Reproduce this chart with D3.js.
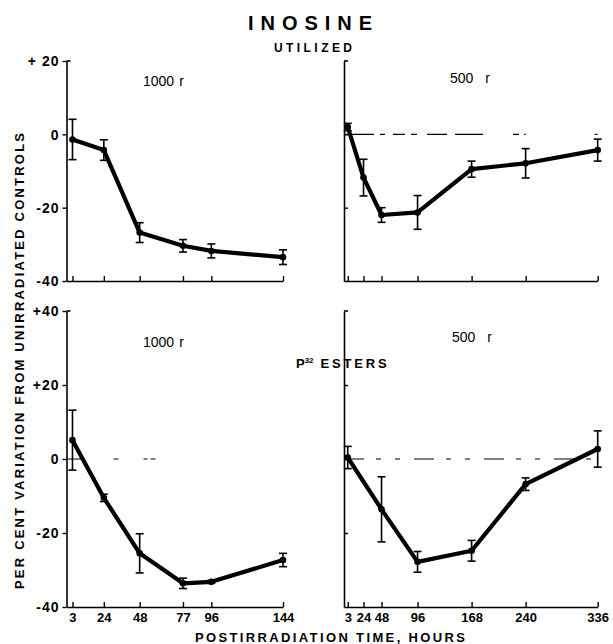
<!DOCTYPE html>
<html><head><meta charset="utf-8">
<script src="https://cdn.jsdelivr.net/npm/d3@7/dist/d3.min.js"></script>
<style>
body{margin:0;background:#fff;}
svg{display:block;}
text{font-family:"Liberation Sans",Arial,sans-serif;fill:#000;}
</style></head>
<body><svg id="c" width="613" height="644"></svg>
<script>
// ---- data ----
const hours1000 = [3, 24, 48, 77, 96, 144];
const hours500 = [3, 24, 48, 96, 168, 240, 336];
const hours500b = [3, 48, 96, 168, 240, 336];

const utilized1000 = [-1.4, -4.3, -26.8, -30.4, -31.8, -33.5];
const utilized1000Err = [5.5, 2.8, 2.7, 1.7, 1.9, 2.0];
const utilized500 = [2.0, -11.8, -22.0, -21.3, -9.5, -7.9, -4.3];
const utilized500Err = [1.0, 5.0, 2.0, 4.6, 2.2, 4.0, 3.0];

const esters1000 = [5.1, -10.5, -25.5, -33.6, -33.2, -27.3];
const esters1000Err = [8.1, 1.0, 5.3, 1.4, 0.4, 1.8];
const esters500 = [0.4, -13.6, -27.8, -24.8, -6.8, 2.7];
const esters500Err = [3.0, 8.8, 2.8, 2.8, 1.7, 4.9];

const ticksLeftX = [3, 24, 48, 77, 96, 144];
const ticksRightX = [3, 24, 48, 96, 168, 240, 336];
const yTicksTop = [20, 0, -20, -40];
const yTicksBottom = [40, 20, 0, -20, -40];
const yLabelsTop = {"20": "+ 20", "0": "0", "-20": "-20", "-40": "-40"};
const yLabelsBottom = {"40": "+40", "20": "+20", "0": "0", "-20": "-20", "-40": "-40"};

const svg = d3.select("#c");

// scales
const xLeft = d3.scaleLinear().domain([-1, 144]).range([66.5, 283]);
const xRight = d3.scaleLinear().domain([-2, 336]).range([344, 597.7]);
const yTop = d3.scaleLinear().domain([-40, 20]).range([281, 61]);
const yBot = d3.scaleLinear().domain([-40, 40]).range([607, 311]);

function panel(opt) {
  const g = svg.append("g");
  const x = opt.x, y = opt.y;
  const x0 = x.range()[0];
  let ya;
  if (opt.left) {
    ya = d3.axisLeft(y).tickValues(opt.yTicks).tickSize(4).tickSizeOuter(0)
      .tickPadding(3).tickFormat(d => opt.yLabels[String(d)]);
  } else {
    ya = d3.axisRight(y).tickValues(opt.yTicks).tickSize(4).tickSizeOuter(0).tickFormat("");
  }
  const yg = g.append("g").attr("transform", `translate(${x0},0)`).call(ya);
  yg.select(".domain").attr("stroke", "#000").attr("stroke-width", 1.6);
  yg.selectAll(".tick line").attr("stroke", "#000").attr("stroke-width", 1.4);
  yg.selectAll(".tick text").style("font-size", "14px").style("letter-spacing", "1px")
    .style("font-weight", "bold").attr("dy", "0.35em");
  g.append("line").attr("x1", x0).attr("x2", x0 + 4)
    .attr("y1", y.range()[1]).attr("y2", y.range()[1])
    .attr("stroke", "#000").attr("stroke-width", 1.6);
  const xa = d3.axisBottom(x).tickValues(opt.xTicks).tickSize(-5).tickSizeOuter(0).tickPadding(6)
    .tickFormat(opt.xLabels ? d3.format("d") : "");
  const xg = g.append("g").attr("transform", `translate(0,${y.range()[0]})`).call(xa);
  xg.select(".domain").attr("stroke", "#000").attr("stroke-width", 1.6);
  xg.selectAll(".tick line").attr("stroke", "#000").attr("stroke-width", 1.4);
  xg.selectAll(".tick text").style("font-size", "13px").style("font-weight", "bold");
  if (opt.zero) {
    opt.zero.forEach(z => {
      g.append("line").attr("x1", z.from === undefined ? x0 : x(z.from)).attr("x2", x(z.to))
        .attr("y1", y(0)).attr("y2", y(0))
        .attr("stroke", "#000").attr("stroke-width", 1.1)
        .attr("stroke-dasharray", z.dash);
    });
  }
  const pts = opt.hours.map((h, i) => ({h, v: opt.values[i], e: opt.errs[i]}));
  g.append("path").datum(pts)
    .attr("d", d3.line().x(d => x(d.h)).y(d => y(d.v)))
    .attr("fill", "none").attr("stroke", "#000").attr("stroke-width", 4.2)
    .attr("stroke-linejoin", "round");
  const eb = g.selectAll(".eb").data(pts.filter(d => d.e > 0)).enter().append("g");
  eb.append("line").attr("x1", d => x(d.h)).attr("x2", d => x(d.h))
    .attr("y1", d => y(d.v + d.e)).attr("y2", d => y(d.v - d.e))
    .attr("stroke", "#000").attr("stroke-width", 1.6);
  [1, -1].forEach(s => {
    eb.append("line").attr("x1", d => x(d.h) - 4).attr("x2", d => x(d.h) + 4)
      .attr("y1", d => y(d.v + s * d.e)).attr("y2", d => y(d.v + s * d.e))
      .attr("stroke", "#000").attr("stroke-width", 1.6);
  });
  g.selectAll(".pt").data(pts).enter().append("circle")
    .attr("cx", d => x(d.h)).attr("cy", d => y(d.v)).attr("r", 3.3).attr("fill", "#000");
  const t = g.append("text").attr("x", opt.label.x).attr("y", opt.label.y)
    .style("font-size", "14px");
  t.append("tspan").text(opt.label.t);
  t.append("tspan").attr("dx", opt.label.gap).text("r");
}

panel({x: xLeft, y: yTop, left: true, yTicks: yTicksTop, yLabels: yLabelsTop,
  xTicks: ticksLeftX, xLabels: false, hours: hours1000, values: utilized1000, errs: utilized1000Err,
  label: {x: 143, y: 86, gap: 5, t: "1000"}});
panel({x: xRight, y: yTop, left: false, yTicks: [0, -20],
  xTicks: ticksRightX, xLabels: false, hours: hours500, values: utilized500, errs: utilized500Err,
  zero: [{to: 240, dash: "30,6,5,8,12,6,6,10,20,8,28"}, {from: 332, to: 336, dash: "none"}],
  label: {x: 450, y: 83, gap: 12, t: "500"}});
panel({x: xLeft, y: yBot, left: true, yTicks: yTicksBottom, yLabels: yLabelsBottom,
  xTicks: ticksLeftX, xLabels: true, hours: hours1000, values: esters1000, errs: esters1000Err,
  zero: [{to: 60, dash: "16,31,5,25,4,3,5"}],
  label: {x: 143, y: 347, gap: 5, t: "1000"}});
panel({x: xRight, y: yBot, left: false, yTicks: [20, 0, -20],
  xTicks: ticksRightX, xLabels: true, hours: hours500b, values: esters500, errs: esters500Err,
  zero: [{to: 336, dash: "20,12,5,14,5,14"}],
  label: {x: 452, y: 342, gap: 12, t: "500"}});

svg.append("text").attr("x", 310).attr("y", 30).attr("text-anchor", "middle")
  .attr("textLength", 124).attr("lengthAdjust", "spacing")
  .style("font-size", "20px").style("font-weight", "900").text("INOSINE");
svg.append("text").attr("x", 313).attr("y", 52).attr("text-anchor", "middle")
  .attr("textLength", 78).attr("lengthAdjust", "spacing")
  .style("font-size", "12px").style("font-weight", "bold").text("UTILIZED");
const p = svg.append("text").attr("x", 296).attr("y", 368).style("font-size", "13px").style("font-weight", "bold");
p.append("tspan").text("P");
p.append("tspan").attr("dy", -5).style("font-size", "8px").text("32");
p.append("tspan").attr("dy", 5).attr("dx", 7).attr("textLength", 66).attr("lengthAdjust", "spacing").text("ESTERS");

svg.append("text").attr("transform", "translate(24,361) rotate(-90)")
  .attr("text-anchor", "middle").attr("textLength", 456).attr("lengthAdjust", "spacing")
  .style("font-size", "13px").style("font-weight", "bold")
  .text("PER CENT VARIATION FROM UNIRRADIATED CONTROLS");
svg.append("text").attr("x", 330).attr("y", 642).attr("text-anchor", "middle")
  .attr("textLength", 270).attr("lengthAdjust", "spacing")
  .style("font-size", "13px").style("font-weight", "bold")
  .text("POSTIRRADIATION TIME, HOURS");
</script></body></html>
